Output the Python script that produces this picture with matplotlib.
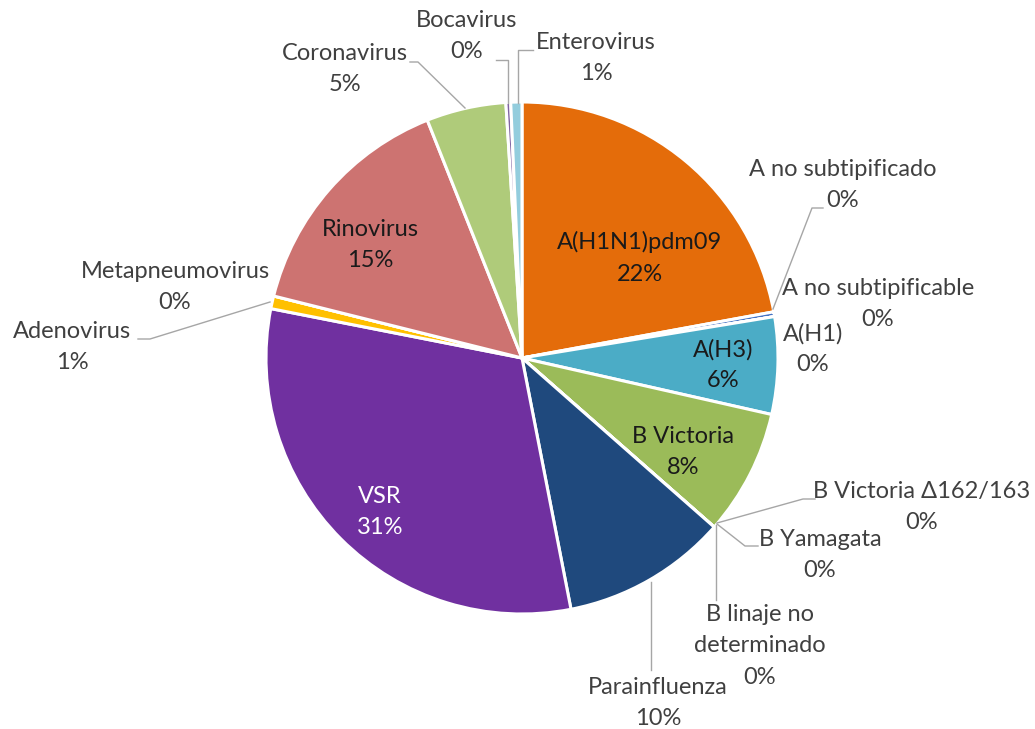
import matplotlib.pyplot as plt
import numpy as np

plt.rcParams['font.family'] = ['Lato', 'DejaVu Sans']

W, H = 1035, 729

# data (clockwise from 12 o'clock)
virus = ['A(H1N1)pdm09', 'A no subtipificado', 'A no subtipificable', 'A(H1)',
         'A(H3)', 'B Victoria', 'B Victoria Δ162/163', 'B Yamagata',
         'B linaje no\ndeterminado', 'Parainfluenza', 'VSR', 'Adenovirus',
         'Metapneumovirus', 'Rinovirus', 'Coronavirus', 'Bocavirus', 'Enterovirus']
valores = [22.0, 0.3, 0.0, 0.0, 6.1, 7.9, 0.0, 0.0, 0.0, 10.4, 31.0, 0.8,
           0.0, 15.0, 5.0, 0.3, 0.7]
colores = ['#E46C0A', '#4472C4', '#4472C4', '#4472C4', '#4BACC6', '#9BBB59',
           '#9BBB59', '#9BBB59', '#9BBB59', '#1F497D', '#7030A0', '#FFC000',
           '#C0504D', '#CD7371', '#AFCB7A', '#8064A2', '#93CDDD']

# label layout (pixel coords, y from top)
pos_label = {
    'A(H1N1)pdm09': (640, 258), 'A no subtipificado': (843, 185),
    'A no subtipificable': (878, 304), 'A(H1)': (813, 349),
    'A(H3)': (723, 365), 'B Victoria': (683, 452),
    'B Victoria Δ162/163': (922, 507), 'B Yamagata': (820, 555),
    'B linaje no\ndeterminado': (760, 646), 'Parainfluenza': (658, 703),
    'VSR': (380, 512), 'Adenovirus': (72, 347), 'Metapneumovirus': (175, 287),
    'Rinovirus': (370, 245), 'Coronavirus': (345, 69), 'Bocavirus': (467, 36),
    'Enterovirus': (596, 58),
}
guias = {
    'Coronavirus': [(465, 108), (418, 62), (410, 62)],
    'Bocavirus': [(508, 103), (508, 60), (496, 60)],
    'Enterovirus': [(518, 103), (518, 50), (533, 50)],
    'A no subtipificado': [(773, 309), (812, 208), (823, 208)],
    'B Victoria Δ162/163': [(717, 523), (803, 499), (815, 499)],
    'B Yamagata': [(717, 524), (745, 546), (758, 546)],
    'B linaje no\ndeterminado': [(716, 525), (716, 600)],
    'Parainfluenza': [(651, 582), (651, 670)],
    'Adenovirus': [(270, 302), (150, 339), (138, 339)],
}
dentro = ['A(H1N1)pdm09', 'A(H3)', 'B Victoria', 'VSR', 'Rinovirus']


def P(x, y):
    return x, H - y


fig = plt.figure(figsize=(W / 100, H / 100), dpi=100)
ax = fig.add_axes([0, 0, 1, 1])

ax.pie(valores, colors=colores, startangle=90, counterclock=False,
       center=P(522, 358), radius=256,
       wedgeprops=dict(edgecolor='white', linewidth=2.2))
ax.set_xlim(0, W)
ax.set_ylim(0, H)
ax.set_aspect('equal')
ax.axis('off')

total = sum(valores)
for nombre, v in zip(virus, valores):
    txt = f'{nombre}\n{v / total * 100:.0f}%'
    col = '#404040'
    if nombre in dentro:
        col = 'white' if nombre == 'VSR' else '#1a1a1a'
    ax.text(*P(*pos_label[nombre]), txt, ha='center', va='center',
            fontsize=17, color=col, linespacing=1.6)

for nombre, pts in guias.items():
    xs, ys = zip(*[P(*p) for p in pts])
    ax.plot(xs, ys, color='#A6A6A6', lw=1)

fig.savefig('out.png', dpi=100)
